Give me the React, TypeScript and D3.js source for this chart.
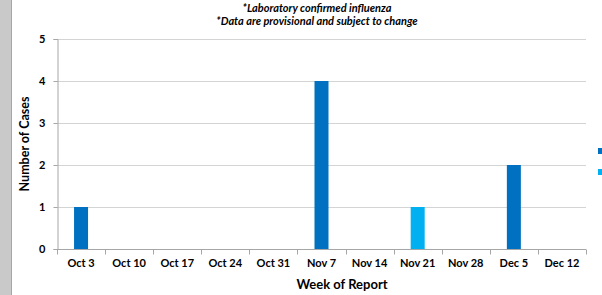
import React, { useEffect, useRef } from 'react';
import * as d3 from 'd3';

const weeks = ["Oct 3", "Oct 10", "Oct 17", "Oct 24", "Oct 31", "Nov 7", "Nov 14", "Nov 21", "Nov 28", "Dec 5", "Dec 12"];
const seriesA = [1, 0, 0, 0, 0, 4, 0, 0, 0, 2, 0];
const seriesB = [0, 0, 0, 0, 0, 0, 0, 1, 0, 0, 0];
const seriesNames = ["Series A", "Series B"];
const seriesColors = ["#0070c0", "#00b0f0"];
const yTicks = [0, 1, 2, 3, 4, 5];
const subtitles = ["*Laboratory confirmed influenza", "*Data are provisional and subject to change"];

const W = 602;
const H = 295;
const FONT = "Lato, 'Open Sans', sans-serif";

function App() {
    const ref = useRef<SVGSVGElement>(null);

    useEffect(() => {
        const svg = d3.select(ref.current);
        svg.selectAll("*").remove();

        const left = 57, right = 586, top = 39, bottom = 249;

        svg.append("rect").attr("width", W).attr("height", H).attr("fill", "#fff");
        svg.append("rect").attr("x", 0).attr("y", 0).attr("width", 11).attr("height", H).attr("fill", "#c9c9c9");
        svg.append("line").attr("x1", 11.5).attr("x2", 11.5).attr("y1", 0).attr("y2", H).attr("stroke", "#a6a6a6");

        const x = d3.scaleBand().domain(weeks).range([left, right]);
        const y = d3.scaleLinear().domain([0, 5]).range([bottom, top]);

        // subtitles
        svg.selectAll(".sub")
            .data(subtitles)
            .enter()
            .append("text")
            .attr("x", 317)
            .attr("y", (d, i) => 12 + i * 13)
            .attr("text-anchor", "middle")
            .style("font-family", FONT)
            .style("font-size", "11px")
            .style("font-weight", "bold")
            .style("font-style", "italic")
            .text(d => d);

        // gridlines
        svg.selectAll(".grid")
            .data(yTicks.filter(t => t > 0))
            .enter()
            .append("line")
            .attr("x1", left)
            .attr("x2", right)
            .attr("y1", d => Math.round(y(d)) + 0.5)
            .attr("y2", d => Math.round(y(d)) + 0.5)
            .attr("stroke", "#d4d4d4")
            .attr("stroke-width", 1);

        // stacked bars
        const rows = weeks.map((w, i) => ({ week: w, a: seriesA[i], b: seriesB[i] }));
        const stacked = d3.stack<any>().keys(["a", "b"])(rows);
        const barW = 14;
        stacked.forEach((layer, li) => {
            svg.append("g")
                .selectAll("rect")
                .data(layer)
                .enter()
                .append("rect")
                .attr("x", d => (x(d.data.week) as number) + x.bandwidth() / 2 - barW / 2)
                .attr("y", d => y(d[1]))
                .attr("width", barW)
                .attr("height", d => y(d[0]) - y(d[1]))
                .attr("fill", seriesColors[li]);
        });

        // y axis
        svg.append("g")
            .attr("transform", `translate(${left + 0.5},0)`)
            .call(d3.axisLeft(y).tickValues(yTicks).tickFormat(d3.format("d")).tickSize(4).tickPadding(8))
            .call(g => g.select(".domain").attr("stroke", "#a6a6a6"))
            .call(g => g.selectAll(".tick line").attr("stroke", "#a6a6a6"))
            .call(g => g.selectAll(".tick text")
                .style("font-family", FONT)
                .style("font-size", "11px")
                .style("font-weight", "bold")
                .attr("fill", "#000"));

        // x axis
        const xAxis = svg.append("g").attr("transform", `translate(0,${bottom + 0.5})`);
        xAxis.append("line").attr("x1", left).attr("x2", right).attr("stroke", "#a6a6a6");
        xAxis.selectAll(".xt")
            .data(d3.range(weeks.length + 1))
            .enter()
            .append("line")
            .attr("x1", i => Math.round(left + i * x.step()) + 0.5)
            .attr("x2", i => Math.round(left + i * x.step()) + 0.5)
            .attr("y1", 0)
            .attr("y2", 5)
            .attr("stroke", "#a6a6a6");
        xAxis.selectAll(".xl")
            .data(weeks)
            .enter()
            .append("text")
            .attr("x", d => (x(d) as number) + x.bandwidth() / 2)
            .attr("y", 17.5)
            .attr("text-anchor", "middle")
            .style("font-family", FONT)
            .style("font-size", "11px")
            .style("font-weight", "bold")
            .text(d => d);

        // axis titles
        svg.append("text")
            .attr("transform", `translate(29,${(top + bottom) / 2}) rotate(-90)`)
            .attr("text-anchor", "middle")
            .style("font-family", FONT)
            .style("font-size", "12.5px")
            .style("font-weight", "bold")
            .text("Number of Cases");

        svg.append("text")
            .attr("x", 342)
            .attr("y", 289)
            .attr("text-anchor", "middle")
            .style("font-family", FONT)
            .style("font-size", "13px")
            .style("font-weight", "bold")
            .text("Week of Report");

        // legend (cut off at the right edge)
        svg.selectAll(".leg")
            .data(seriesNames)
            .enter()
            .append("rect")
            .attr("x", 598)
            .attr("y", (d, i) => 148 + i * 21)
            .attr("width", 6)
            .attr("height", 6)
            .attr("fill", (d, i) => seriesColors[i]);
    }, []);

    return (
        <div style={{ position: "fixed", left: 0, top: 0 }}>
            <svg ref={ref} width={W} height={H} style={{ display: "block" }}></svg>
        </div>
    );
}

export default App;
